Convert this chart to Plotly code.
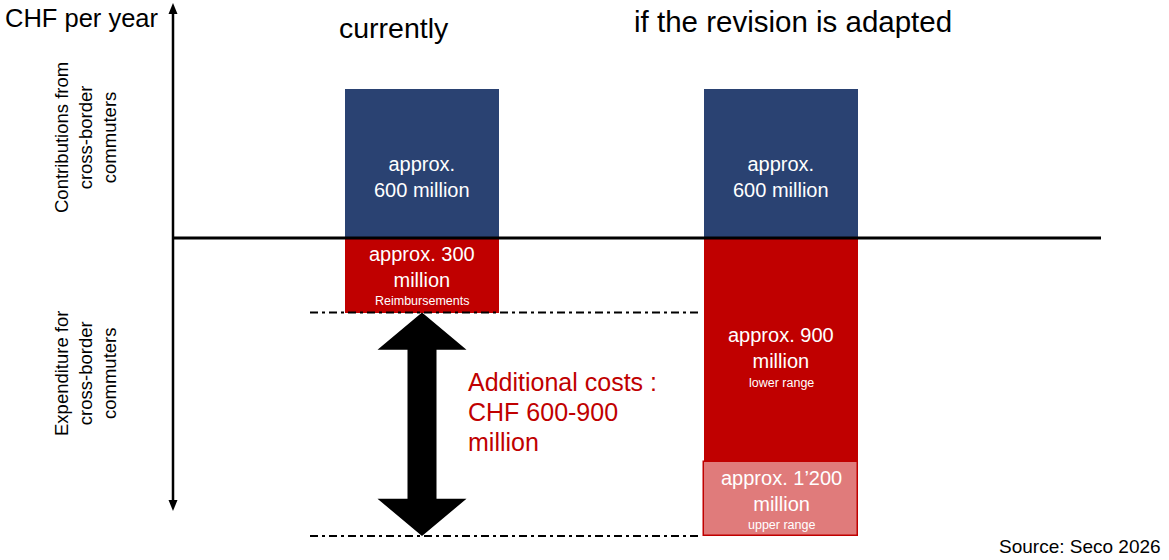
import plotly.graph_objects as go

W, H = 1169, 560

# ---- data (CHF million per year) ----
scenarios = ["currently", "if the revision is adapted"]
contributions = [600, 600]
expenditure_lower = [-300, -900]
expenditure_upper_extra = [None, -300]
main_labels_pos = ["approx.<br>600 million", "approx.<br>600 million"]
main_labels_neg = ["approx. 300<br>million", "approx. 900<br>million"]
sub_labels_neg = ["Reimbursements", "lower range"]
upper_label = "approx. 1’200<br>million"
upper_sub = "upper range"
extra_cost_lines = ["Additional costs :", "CHF 600-900", "million"]
source_text = "Source: Seco 2026"

BLUE = "#2A4272"
RED = "#C00000"
PINK = "#E07B7B"
FONT = "Liberation Sans, Arial, sans-serif"

xpos = [0, 1]
# axis ranges (layout)
px_per_unit_x = 359.0
x0_px = 422.0
xr = [-x0_px / px_per_unit_x, (W - x0_px) / px_per_unit_x]
zero_px = 238.0
px_per_mio = 447.0 / 1800.0
yr = [-(H - zero_px) / px_per_mio, zero_px / px_per_mio]

def x_of(px):
    return (px - x0_px) / px_per_unit_x

def y_of(py):
    return (zero_px - py) / px_per_mio

bw = 0.43
fig = go.Figure()
fig.add_trace(go.Bar(x=xpos, y=contributions, width=bw, marker=dict(color=BLUE, line=dict(width=0)), hoverinfo="skip"))
fig.add_trace(go.Bar(x=xpos, y=expenditure_lower, width=bw, marker=dict(color=RED, line=dict(width=0)), hoverinfo="skip"))
fig.add_trace(go.Bar(x=xpos, y=expenditure_upper_extra, width=bw, marker=dict(color=PINK, line=dict(width=1.5, color=RED)), hoverinfo="skip"))

ann = []
# bar labels
for i in range(2):
    ann.append(dict(x=xpos[i], y=contributions[i] / 2, yshift=-13, text=main_labels_pos[i],
                    showarrow=False, font=dict(family=FONT, size=20, color="white")))
    ann.append(dict(x=xpos[i], y=expenditure_lower[i] / 2, yshift=8 if i == 0 else 2, text=main_labels_neg[i],
                    showarrow=False, font=dict(family=FONT, size=20, color="white")))
    ann.append(dict(x=xpos[i], y=expenditure_lower[i] / 2, yshift=-26 if i == 0 else -33, text=sub_labels_neg[i],
                    showarrow=False, font=dict(family=FONT, size=12.5, color="white")))
pink_mid = expenditure_lower[1] + expenditure_upper_extra[1] / 2
ann.append(dict(x=xpos[1], y=pink_mid, yshift=8, text=upper_label, showarrow=False,
                font=dict(family=FONT, size=20, color="white")))
ann.append(dict(x=xpos[1], y=pink_mid, yshift=-26, text=upper_sub, showarrow=False,
                font=dict(family=FONT, size=12.5, color="white")))

# titles
ann.append(dict(xref="paper", yref="paper", x=394 / W, y=1 - 28 / H, text=scenarios[0], showarrow=False,
                xanchor="center", yanchor="middle", font=dict(family=FONT, size=28.5, color="black")))
ann.append(dict(xref="paper", yref="paper", x=793 / W, y=1 - 22 / H, text=scenarios[1], showarrow=False,
                xanchor="center", yanchor="middle", font=dict(family=FONT, size=29.5, color="black")))
ann.append(dict(xref="paper", yref="paper", x=3 / W, y=1 - 18 / H, text="CHF per year", showarrow=False,
                xanchor="left", yanchor="middle", font=dict(family=FONT, size=25.5, color="black")))
# vertical labels
ann.append(dict(xref="paper", yref="paper", x=85 / W, y=1 - 138 / H, text="Contributions from<br>cross-border<br>commuters",
                showarrow=False, textangle=-90, xanchor="center", yanchor="middle",
                font=dict(family=FONT, size=18.5, color="black")))
ann.append(dict(xref="paper", yref="paper", x=85 / W, y=1 - 374 / H, text="Expenditure for<br>cross-border<br>commuters",
                showarrow=False, textangle=-90, xanchor="center", yanchor="middle",
                font=dict(family=FONT, size=18.5, color="black")))
# additional costs (one annotation per line for tighter spacing)
for k, line in enumerate(extra_cost_lines):
    ann.append(dict(x=x_of(466), y=y_of(382 + 30 * k), text=line, showarrow=False, xanchor="left", yanchor="middle",
                    align="left", font=dict(family=FONT, size=25, color=RED)))
# source
ann.append(dict(xref="paper", yref="paper", x=1163 / W, y=1 - 546 / H, text=source_text, showarrow=False,
                xanchor="right", yanchor="middle", font=dict(family=FONT, size=19, color="black")))

shapes = []
# vertical axis with arrowheads
ax_x = x_of(173)
hx = 4.5 / px_per_unit_x
top_tip, top_base = y_of(3), y_of(14)
bot_tip, bot_base = y_of(511), y_of(500)
shapes.append(dict(type="line", x0=ax_x, x1=ax_x, y0=y_of(12), y1=y_of(502), line=dict(color="black", width=2.5)))
shapes.append(dict(type="path", path=f"M {ax_x},{top_tip} L {ax_x + hx},{top_base} L {ax_x - hx},{top_base} Z",
                   fillcolor="black", line=dict(width=0)))
shapes.append(dict(type="path", path=f"M {ax_x},{bot_tip} L {ax_x + hx},{bot_base} L {ax_x - hx},{bot_base} Z",
                   fillcolor="black", line=dict(width=0)))
# zero line
shapes.append(dict(type="line", x0=ax_x, x1=x_of(1101), y0=0, y1=0, line=dict(color="black", width=3), layer="above"))
# dash-dot reference lines
dash = "8px,4px,3px,4px"
shapes.append(dict(type="line", x0=x_of(310), x1=x_of(700), y0=expenditure_lower[0], y1=expenditure_lower[0],
                   line=dict(color="black", width=2, dash=dash), layer="above"))
total_upper = expenditure_lower[1] + expenditure_upper_extra[1]
shapes.append(dict(type="line", x0=x_of(310), x1=x_of(702), y0=total_upper, y1=total_upper,
                   line=dict(color="black", width=2, dash=dash), layer="above"))
# double arrow polygon
cx = xpos[0]
top = expenditure_lower[0]
bot = total_upper
head = 150
hw = 44.5 / px_per_unit_x
sw = 14.5 / px_per_unit_x
pts = [(cx, top), (cx + hw, top - head), (cx + sw, top - head), (cx + sw, bot + head), (cx + hw, bot + head),
       (cx, bot), (cx - hw, bot + head), (cx - sw, bot + head), (cx - sw, top - head), (cx - hw, top - head)]
path = "M " + " L ".join(f"{px},{py}" for px, py in pts) + " Z"
shapes.append(dict(type="path", path=path, fillcolor="black", line=dict(width=0), layer="above"))

fig.update_layout(
    width=W, height=H, margin=dict(l=0, r=0, t=0, b=0),
    barmode="relative", bargap=0,
    plot_bgcolor="white", paper_bgcolor="white", showlegend=False,
    xaxis=dict(range=xr, visible=False, fixedrange=True),
    yaxis=dict(range=yr, visible=False, fixedrange=True),
    annotations=ann, shapes=shapes,
)
fig.write_html("out.html", config={"displayModeBar": False},
               post_script="document.body.style.margin='0';document.body.style.overflow='hidden';")
